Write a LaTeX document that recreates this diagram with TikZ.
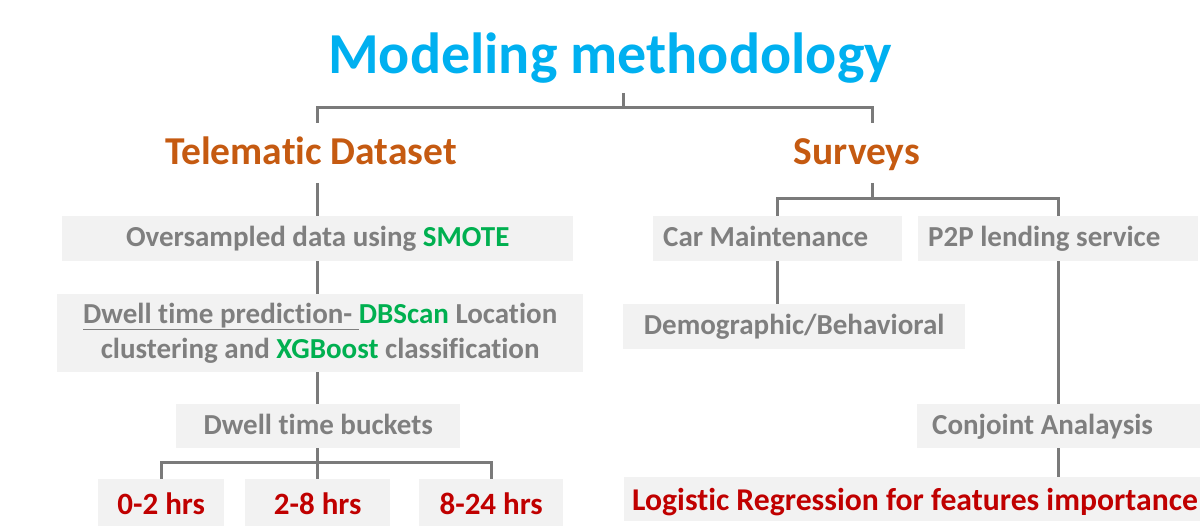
\documentclass[tikz,border=0pt]{standalone}
\usepackage{fontspec}
\setmainfont{Carlito}[Ligatures=NoCommon]
\usetikzlibrary{calc}
\definecolor{tblue}{HTML}{00B0F0}
\definecolor{torange}{HTML}{C55A11}
\definecolor{tgray}{HTML}{7F7F7F}
\definecolor{tgreen}{HTML}{00B050}
\definecolor{tred}{HTML}{C00000}
\definecolor{boxfill}{HTML}{F2F2F2}
\definecolor{lgray}{HTML}{7A7A7A}
\newsavebox\myulbox
\newcommand\myul[1]{\sbox\myulbox{#1}\rlap{\rule[-7pt]{\wd\myulbox}{1.8pt}}\usebox\myulbox}
\begin{document}
\begin{tikzpicture}[x=1pt,y=-1pt,
  conn/.style={draw=lgray,line width=3pt,line join=miter},
  boxbase/.style={fill=boxfill,inner sep=0pt,anchor=north west,font=\fontsize{29}{35}\selectfont\bfseries,text=tgray},
  cbox/.style={boxbase,text height=21.75pt,text depth=5.8pt},
  rbox/.style={boxbase,font=\fontsize{31}{36}\selectfont\bfseries,text=tred,text height=23.25pt,text depth=0pt},
  headtext/.style={inner sep=0pt,anchor=base,font=\fontsize{39.5}{44}\selectfont\bfseries,text=torange}]
\useasboundingbox (0,0) rectangle (1200,526);
% titles
\node[inner sep=0pt,anchor=base,font=\fontsize{58}{64}\selectfont\bfseries,text=tblue] (title) at (610,74) {Modeling methodology};
\node[headtext] (tel) at (311,165) {Telematic Dataset};
\node[headtext] (sur) at (857,165) {Surveys};
% left column
\node[cbox,minimum width=511pt,minimum height=45pt] (over) at (62,216) {Oversampled data using \textcolor{tgreen}{SMOTE}};
\node[boxbase,minimum width=526pt,minimum height=78pt,align=center] (dwell) at (57,294)
  {\myul{Dwell time prediction-\ }\textcolor{tgreen}{DBScan} Location\\clustering and \textcolor{tgreen}{XGBoost} classification};
\node[cbox,minimum width=284pt,minimum height=44pt] (buck) at (176,404) {Dwell time buckets};
\node[rbox,minimum width=126pt,minimum height=47pt] (b1) at (98,479) {0-2 hrs};
\node[rbox,minimum width=145pt,minimum height=47pt] (b2) at (245,479) {2-8 hrs};
\node[rbox,minimum width=144pt,minimum height=47pt] (b3) at (419,479) {8-24 hrs};
% right column
\node[cbox,inner xsep=10pt,minimum height=45pt] (car) at (653,216) {\makebox[229pt][l]{Car Maintenance}};
\node[cbox,inner xsep=10pt,minimum height=45pt] (p2p) at (918,216) {\makebox[260pt][l]{P2P lending service}};
\node[cbox,minimum width=342pt,minimum height=45pt] (demo) at (623,304) {Demographic/Behavioral};
\node[cbox,inner xsep=15pt,minimum height=44pt] (conj) at (917,404) {\makebox[253pt][l]{Conjoint Analaysis}};
\node[rbox,font=\fontsize{31.7}{36}\selectfont\bfseries,inner xsep=8pt,minimum height=44pt] (logi) at (624,477) {\makebox[560pt][l]{Logistic Regression for features importance}};
% connector anchors
\coordinate (xL) at (317,0);
\coordinate (tstem) at (623,93);
\coordinate (telin) at (317,123);
\coordinate (surin) at (872,123);
\coordinate (telout) at (317,183);
\coordinate (surout) at (872,183);
\coordinate (bj) at (317,463);
% connectors
\draw[conn] (tstem) -- ++(0,15) coordinate (tj);
\draw[conn] (telin) |- (tj) -| (surin);
\draw[conn] (telout) -- (over.north -| telout);
\draw[conn] (over.south -| xL) -- (dwell.north -| xL);
\draw[conn] (dwell.south -| xL) -- (buck.north -| xL);
\draw[conn] (buck.south -| xL) -- (b2.north -| xL);
\draw[conn] (b1.north) |- (bj) -| (b3.north);
\draw[conn] (surout) -- ++(0,16) coordinate (sj);
\draw[conn] (car.north) |- (sj) -| (p2p.north);
\draw[conn] (car.south) -- (car.south |- demo.north);
\draw[conn] (p2p.south) -- (p2p.south |- conj.north);
\draw[conn] (conj.south) -- (conj.south |- logi.north);
\end{tikzpicture}
\end{document}
